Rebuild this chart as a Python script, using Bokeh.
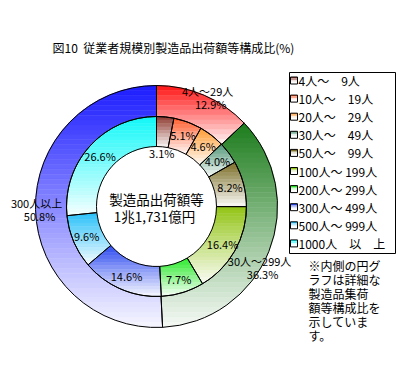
import numpy as np
from bokeh.plotting import figure
from bokeh.models import Range1d, ColumnDataSource
from bokeh.core.properties import value
from bokeh.embed import file_html
from bokeh.resources import INLINE

# ---------------- data ----------------
title_text = "図10\u00a0\u00a0従業者規模別製造品出荷額等構成比(%)"
center_lines = ["製造品出荷額等", "1兆1,731億円"]

inner_labels = ["4人～　9人", "10人～　19人", "20人～　29人", "30人～　49人",
                "50人～　99人", "100人～ 199人", "200人～ 299人", "300人～ 499人",
                "500人～ 999人", "1000人　以　上"]
inner_pct = [3.1, 5.1, 4.6, 4.0, 8.2, 16.4, 7.7, 14.6, 9.6, 26.6]
inner_colors = ["#8e3a30", "#ff5a28", "#ff9a30", "#4e9474", "#7a6c24",
                "#92c414", "#28ea28", "#2a48f0", "#28c0f8", "#10f8f8"]

outer_labels = ["4人～29人", "30人～299人", "300人以上"]
outer_pct = [12.9, 36.3, 50.8]
outer_colors = ["#ff1414", "#1c7c1c", "#1c1cff"]

note_lines = ["※内側の円グ", "ラフは詳細な", "製造品集荷", "額等構成比を", "示していま", "す。"]

# ---------------- layout helpers ----------------
W, H = 396, 364
def X(px):
    return px
def Y(py):
    return H - py

CX, CY = X(156), Y(206)
R_HOLE, R_MID, R_OUT = 60, 90, 121
FONT = value("Noto Sans CJK JP")

p = figure(width=W, height=H, x_range=Range1d(0, W), y_range=Range1d(0, H),
           min_border=0, toolbar_location=None, output_backend="svg",
           x_axis_location=None, y_axis_location=None)
p.grid.visible = False
p.outline_line_color = None
p.background_fill_color = "white"


def ring_poly(r0, r1, f0, f1):
    th0 = np.pi / 2 - 2 * np.pi * f0
    th1 = np.pi / 2 - 2 * np.pi * f1
    n = max(8, int(abs(th1 - th0) * 60))
    t = np.linspace(th0, th1, n)
    xs = np.concatenate([CX + r1 * np.cos(t), CX + r0 * np.cos(t[::-1])])
    ys = np.concatenate([CY + r1 * np.sin(t), CY + r0 * np.sin(t[::-1])])
    return list(zip(xs, ys))


def clip(poly, yc, keep_above):
    out = []
    n = len(poly)
    for i in range(n):
        P = poly[i]
        Q = poly[(i + 1) % n]
        pin = P[1] >= yc if keep_above else P[1] <= yc
        qin = Q[1] >= yc if keep_above else Q[1] <= yc
        if pin:
            out.append(P)
        if pin != qin:
            t = (yc - P[1]) / (Q[1] - P[1])
            out.append((P[0] + t * (Q[0] - P[0]), yc))
    return out


def mix(hexc, m):
    c = np.array([int(hexc[i:i + 2], 16) for i in (1, 3, 5)], dtype=float)
    c = c * (1 - m) + 255 * m
    return "#%02x%02x%02x" % tuple(int(round(v)) for v in c)


stripe_xs, stripe_ys, stripe_col = [], [], []


def add_gradient(r0, r1, f0, f1, color, band=3.5):
    poly = ring_poly(r0, r1, f0, f1)
    ys = [q[1] for q in poly]
    ytop, ybot = max(ys), min(ys)
    hgt = ytop - ybot
    nb = max(3, int(np.ceil(hgt / band)))
    edges = np.linspace(ytop, ybot, nb + 1)
    for k in range(nb):
        piece = clip(clip(poly, edges[k], False), edges[k + 1], True)
        if len(piece) < 3:
            continue
        t = (k + 0.5) / nb
        stripe_xs.append([q[0] for q in piece])
        stripe_ys.append([q[1] for q in piece])
        stripe_col.append(mix(color, 0.96 * t))


def cum_fracs(vals):
    tot = float(sum(vals))
    c = np.concatenate([[0.0], np.cumsum(vals)]) / tot
    return c[:-1], c[1:]


of0, of1 = cum_fracs(outer_pct)
if0, if1 = cum_fracs(inner_pct)

for a, b, col in zip(of0, of1, outer_colors):
    add_gradient(R_MID, R_OUT, a, b, col, band=5)
for a, b, col in zip(if0, if1, inner_colors):
    add_gradient(R_HOLE, R_MID, a, b, col, band=3.5)

src = ColumnDataSource(dict(xs=stripe_xs, ys=stripe_ys, c=stripe_col))
p.patches("xs", "ys", source=src, fill_color="c", line_color="c", line_width=0.6)

# outlines
def angles(f0, f1):
    return (np.pi / 2 - 2 * np.pi * np.asarray(f0)), (np.pi / 2 - 2 * np.pi * np.asarray(f1))

sa, ea = angles(of0, of1)
p.annular_wedge(x=CX, y=CY, inner_radius=R_MID, outer_radius=R_OUT,
                start_angle=list(sa), end_angle=list(ea), direction="clock",
                fill_color=None, line_color="black", line_width=1)
sa, ea = angles(if0, if1)
p.annular_wedge(x=CX, y=CY, inner_radius=R_HOLE, outer_radius=R_MID,
                start_angle=list(sa), end_angle=list(ea), direction="clock",
                fill_color=None, line_color="black", line_width=1)

# inner percentage labels
lx, ly, lt = [], [], []
for a, b, v in zip(if0, if1, inner_pct):
    mid = (a + b) / 2
    r = 54 if v < 3.5 else 76
    th = np.pi / 2 - 2 * np.pi * mid
    lx.append(CX + r * np.cos(th))
    ly.append(CY + r * np.sin(th))
    lt.append(f"{v:.1f}%")
p.text(x=lx, y=ly, text=lt, text_align="center", text_baseline="middle",
       text_font=FONT, text_font_size="11px", text_color="black")

# outer labels
ang_nudge = [2.0, 9.0, 0.0]
ox, oy, on, op = [], [], [], []
for a, b, nm, v, dn in zip(of0, of1, outer_labels, outer_pct, ang_nudge):
    mid = (a + b) / 2 + dn / 360.0
    th = np.pi / 2 - 2 * np.pi * mid
    r = 120
    x0 = CX + r * np.cos(th)
    y0 = CY + r * np.sin(th)
    ox.append(x0)
    oy.append(y0)
    on.append(nm)
    op.append(f"{v:.1f}%")
p.text(x=ox, y=[y + 6.5 for y in oy], text=on, text_align="center", text_baseline="middle",
       text_font=FONT, text_font_size="11px", text_color="black")
p.text(x=[x + 3 for x in ox], y=[y - 6.5 for y in oy], text=op, text_align="center",
       text_baseline="middle", text_font=FONT, text_font_size="11px", text_color="black")

# center text
p.text(x=[CX, CX - 2], y=[CY + 8, CY - 9], text=center_lines, text_align="center",
       text_baseline="middle", text_font=FONT, text_font_size="13.5px", text_color="black")

# title
p.text(x=[X(52)], y=[Y(47)], text=[title_text], text_align="left", text_baseline="middle",
       text_font=FONT, text_font_size="12px", text_color="black")

# legend box
p.quad(left=[X(289)], right=[X(395)], top=[Y(72)], bottom=[Y(253)],
       fill_color="white", line_color="black", line_width=1)
row_y = [Y(80 + 18.1 * i) for i in range(len(inner_labels))]
sw_l, sw_r = X(290), X(297)
sq_t = [y + 3.5 for y in row_y]
sq_b = [y - 3.5 for y in row_y]
# swatch gradient (top colored, fading to white)
for k, m in enumerate([0.0, 0.45, 0.85]):
    p.quad(left=sw_l, right=sw_r, top=[t - k * 1.5 for t in sq_t],
           bottom=[t - (k + 1) * 1.5 for t in sq_t],
           fill_color=[mix(c, m) for c in inner_colors], line_color=None)
p.quad(left=sw_l, right=sw_r, top=sq_t, bottom=sq_b, fill_color=None,
       line_color="black", line_width=1)
p.text(x=X(298), y=row_y, text=inner_labels, text_align="left", text_baseline="middle",
       text_font=FONT, text_font_size="12px", text_color="black")

# note
p.text(x=[X(308)] * len(note_lines), y=[Y(265 + 13.9 * i) for i in range(len(note_lines))],
       text=note_lines, text_align="left", text_baseline="middle",
       text_font=FONT, text_font_size="12px", text_color="black")

open("out.html", "w").write(file_html(p, INLINE))
